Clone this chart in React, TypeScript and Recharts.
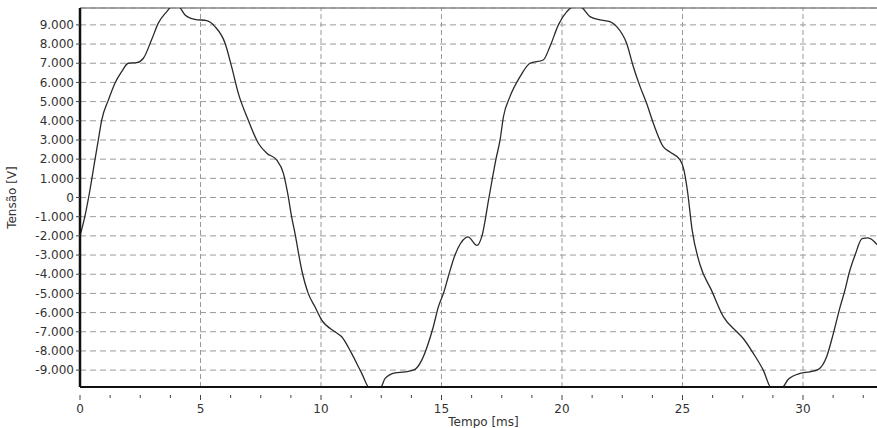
import {
  LineChart, Line, XAxis, YAxis, CartesianGrid, ReferenceLine, Label,
} from "recharts";

const TIME_MS = [
  0, 0.2, 0.4, 0.62, 0.76, 0.9, 1.18, 1.45, 1.73, 2.0, 2.35, 2.63, 2.97,
  3.25, 3.6, 3.8, 4.08, 4.36, 4.77, 5.26, 5.6, 6.02, 6.29, 6.57, 6.98, 7.4, 7.75,
  8.16, 8.44, 8.62, 8.78, 8.92, 9.2, 9.47, 9.75, 10.03, 10.58, 10.86, 11.27, 11.69,
  12.03, 12.45, 12.66, 13.07, 13.49, 13.9, 14.18, 14.45, 14.66, 14.87, 15.08, 15.28,
  15.56, 16.0, 16.1, 16.47, 16.68, 16.97, 17.26, 17.43, 17.57, 17.84, 18.26, 18.67,
  19.22, 19.5, 19.85, 20.2, 20.47, 20.75, 21.16, 21.58, 21.99, 22.27, 22.68, 22.96,
  23.24, 23.51, 23.79, 24.2, 24.48, 24.9, 25.06, 25.2, 25.4, 25.73, 26.2, 26.7,
  27.25, 27.52, 27.94, 28.35, 28.7, 29.1, 29.39, 29.88, 30.29, 30.64, 30.98, 31.26,
  31.54, 31.74, 31.9, 32.16, 32.45, 32.7, 33.07,
];

const TENSAO_V = [
  -2000, -1000, 300, 1960, 3000, 4040, 5090, 5960, 6560, 7000, 7030, 7260, 8220,
  9090, 9690, 9950, 9950, 9520, 9290, 9220, 8910, 8040, 6820, 5430, 4040, 2830, 2310,
  1960, 1260, 200, -1000, -1870, -3780, -5000, -5700, -6390, -7000, -7260, -8130, -9170,
  -9950, -9950, -9430, -9140, -9090, -8960, -8480, -7610, -6740, -5700, -5000, -4130,
  -3000, -2100, -2050, -2500, -2000, 0, 2000, 3000, 4210, 5260, 6300, 7000,
  7170, 7870, 9000, 9690, 9950, 9950, 9430, 9260, 9170, 8910, 8040, 6820,
  5780, 4910, 3870, 2650, 2370, 1960, 1430, 390, -1700, -3520, -4830, -6220,
  -7000, -7350, -8130, -9000, -9950, -9950, -9480, -9170, -9090, -8960, -8300, -7080,
  -5700, -4830, -4000, -3000, -2150, -2100, -2450,
];

const Y_TICKS = [
  -9000, -8000, -7000, -6000, -5000, -4000, -3000, -2000, -1000, 0,
  1000, 2000, 3000, 4000, 5000, 6000, 7000, 8000, 9000,
];
const X_TICKS = [
  0, 1.25, 2.5, 3.75, 5, 6.25, 7.5, 8.75, 10, 11.25, 12.5, 13.75, 15, 16.25, 17.5,
  18.75, 20, 21.25, 22.5, 23.75, 25, 26.25, 27.5, 28.75, 30, 31.25, 32.5,
];
const X_GRID = [5, 10, 15, 20, 25, 30];

const X_MAX = 33.07;
const Y_MAX = 9880;

const data = TIME_MS.map((t, i) => ({ t, v: TENSAO_V[i] }));

const FONT = "'DejaVu Sans', Arial, sans-serif";
const GRID = "#9a9a9a";

function fmtVolt(v: number) {
  if (v === 0) return "0";
  const s = Math.abs(v).toString().replace(/\B(?=(\d{3})+(?!\d))/g, ".");
  return (v < 0 ? "-" : "") + s;
}

// major ticks at multiples of 5 get a label, the rest only a short mark
function TimeTick(props: any) {
  const { x, y, payload } = props;
  const major = payload.value % 5 === 0;
  return (
    <g transform={`translate(${x},${y})`}>
      <line x1={0} x2={0} y1={0} y2={major ? 5 : 3} stroke="#444" strokeWidth={1} />
      {major && (
        <text x={0} y={18} textAnchor="middle" fill="#333" fontSize={12} fontFamily={FONT}>
          {payload.value}
        </text>
      )}
    </g>
  );
}

export default function App() {
  return (
    <div style={{ position: "absolute", left: 0, top: 0, background: "#fff" }}>
      <LineChart
        width={877}
        height={428}
        data={data}
        margin={{ top: 8, right: 0, bottom: 0, left: 0 }}
      >
        <CartesianGrid vertical={false} stroke={GRID} strokeDasharray="6 4" />
        {X_GRID.map((g) => (
          <ReferenceLine key={g} x={g} stroke={GRID} strokeDasharray="5 3" />
        ))}
        <ReferenceLine y={Y_MAX} stroke="#888" strokeWidth={1.5} />
        <XAxis
          dataKey="t"
          type="number"
          domain={[0, X_MAX]}
          ticks={X_TICKS}
          interval={0}
          allowDataOverflow
          height={41}
          axisLine={{ stroke: "#111", strokeWidth: 2 }}
          tickLine={false}
          tick={TimeTick as any}
        >
          <Label
            value="Tempo [ms]"
            position="insideBottom"
            offset={2}
            dx={5}
            style={{ fontSize: 12, fontFamily: FONT, fill: "#333" }}
          />
        </XAxis>
        <YAxis
          type="number"
          domain={[-Y_MAX, Y_MAX]}
          ticks={Y_TICKS}
          interval={0}
          allowDataOverflow
          width={80}
          tickFormatter={fmtVolt}
          axisLine={{ stroke: "#111", strokeWidth: 2.5 }}
          tickLine={{ stroke: "#444" }}
          tickSize={4}
          tick={{ fontSize: 12, fontFamily: FONT, fill: "#333" }}
        >
          <Label
            value="Tensão [V]"
            angle={-90}
            position="insideLeft"
            offset={12}
            style={{ fontSize: 12, fontFamily: FONT, fill: "#333", textAnchor: "middle" }}
          />
        </YAxis>
        <Line
          type="monotone"
          dataKey="v"
          stroke="#2a2a2a"
          strokeWidth={1.3}
          dot={false}
          isAnimationActive={false}
        />
      </LineChart>
    </div>
  );
}
